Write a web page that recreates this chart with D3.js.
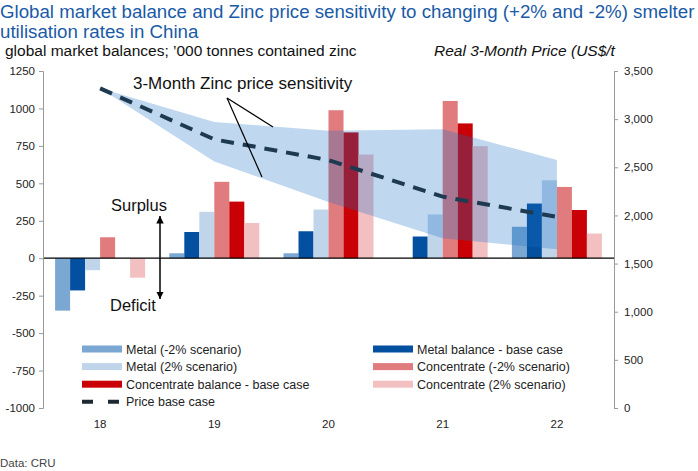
<!DOCTYPE html>
<html>
<head>
<meta charset="utf-8">
<script src="https://cdn.jsdelivr.net/npm/d3@7"></script>
<style>
  body { margin: 0; background: #fff; }
  svg { font-family: "Liberation Sans", Arial, sans-serif; }
</style>
</head>
<body>
<svg id="chart" width="698" height="471"></svg>
<script>
var W = 698, H = 471;

// categories (years)
var years = ["18", "19", "20", "21", "22"];

// market balances, '000 t contained zinc
var metalMinus2 = [-350, 33, 33, 0, 210];
var metalBase = [-215, 175, 180, 145, 365];
var metalPlus2 = [-80, 310, 325, 292, 520];
var concMinus2 = [140, 510, 988, 1050, 476];
var concBase = [0, 378, 840, 900, 322];
var concPlus2 = [-130, 235, 692, 748, 165];

// real 3-month price, US$/t
var priceBase = [3320, 2790, 2575, 2195, 1985];
var priceHigh = [3320, 2970, 2880, 2895, 2575];
var priceLow = [3320, 2560, 2140, 1762, 1650];

var leftTicks = [1250, 1000, 750, 500, 250, 0, -250, -500, -750, -1000];
var rightTicks = [3500, 3000, 2500, 2000, 1500, 1000, 500, 0];

var series = [
  { name: "Metal (-2% scenario)", values: metalMinus2, color: "#7ba7d3" },
  { name: "Metal balance - base case", values: metalBase, color: "#0350a0" },
  { name: "Metal (2% scenario)", values: metalPlus2, color: "#c0d5ea" },
  { name: "Concentrate (-2% scenario)", values: concMinus2, color: "#e07b7e" },
  { name: "Concentrate balance - base case", values: concBase, color: "#c90005" },
  { name: "Concentrate (2% scenario)", values: concPlus2, color: "#f3c0c2" }
];

var svg = d3.select("#chart");
var m = { left: 43, right: 614, top: 71, bottom: 408 };

var x = d3.scaleBand().domain(years).range([m.left, m.right]);
var xs = d3.scaleBand().domain(d3.range(series.length)).range([0, 90]);
var y = d3.scaleLinear().domain([-1000, 1250]).range([m.bottom, m.top]);
var y2 = d3.scaleLinear().domain([0, 3500]).range([m.bottom, m.top]);

// title
svg.append("text").attr("x", 0).attr("y", 18)
  .attr("font-size", 18.7).attr("fill", "#1a5aa6")
  .text("Global market balance and Zinc price sensitivity to changing (+2% and -2%) smelter");
svg.append("text").attr("x", 0).attr("y", 38)
  .attr("font-size", 18.7).attr("fill", "#1a5aa6")
  .text("utilisation rates in China");

svg.append("text").attr("x", 5).attr("y", 56)
  .attr("font-size", 15.5).attr("fill", "#111")
  .text("global market balances; \u2019000 tonnes contained zinc");
svg.append("text").attr("x", 434).attr("y", 56)
  .attr("font-size", 15.5).attr("font-style", "italic").attr("fill", "#111")
  .text("Real 3-Month Price (US$/t");

// bars
series.forEach(function(s, i) {
  svg.append("g").selectAll("rect")
    .data(s.values)
    .enter().append("rect")
    .attr("x", function(d, j) { return x(years[j]) + (x.bandwidth() - 90) / 2 + xs(i); })
    .attr("width", xs.bandwidth())
    .attr("y", function(d) { return y(Math.max(0, d)); })
    .attr("height", function(d) { return Math.abs(y(d) - y(0)); })
    .attr("fill", s.color);
});

// price sensitivity band
var cx = function(d, j) { return x(years[j]) + x.bandwidth() / 2; };
var band = d3.area()
  .x(cx)
  .y0(function(d, j) { return y2(priceLow[j]); })
  .y1(function(d) { return y2(d); });
svg.append("path").datum(priceHigh)
  .attr("d", band)
  .attr("fill", "#1a6fc4")
  .attr("fill-opacity", 0.28);

// price base line
svg.append("path").datum(priceBase)
  .attr("d", d3.line().x(cx).y(function(d) { return y2(d); }))
  .attr("fill", "none")
  .attr("stroke", "#1e3a50")
  .attr("stroke-width", 4)
  .attr("stroke-dasharray", "13,9");

// zero line
svg.append("line")
  .attr("x1", m.left).attr("x2", m.right)
  .attr("y1", y(0)).attr("y2", y(0))
  .attr("stroke", "#000").attr("stroke-width", 1.3);

// left axis (plain hyphen for negatives, as in the source)
var ax = svg.append("g").attr("transform", "translate(" + m.left + ",0)")
  .call(d3.axisLeft(y).tickValues(leftTicks).tickSize(4).tickPadding(4)
    .tickFormat(function(d) { return String(d); }));
ax.select(".domain").attr("stroke", "#999");
ax.selectAll(".tick line").attr("stroke", "#999");
ax.selectAll("text").attr("font-size", 11.5).attr("fill", "#222")
  .attr("font-family", "Liberation Sans, Arial, sans-serif");

// right axis
var ar = svg.append("g").attr("transform", "translate(" + m.right + ",0)")
  .call(d3.axisRight(y2).tickValues(rightTicks).tickSize(4).tickPadding(6).tickFormat(d3.format(",")));
ar.select(".domain").attr("stroke", "#999");
ar.selectAll(".tick line").attr("stroke", "#999");
ar.selectAll("text").attr("font-size", 11.5).attr("fill", "#222")
  .attr("font-family", "Liberation Sans, Arial, sans-serif");

// x labels
svg.append("g").selectAll("text")
  .data(years)
  .enter().append("text")
  .attr("x", function(d) { return x(d) + x.bandwidth() / 2; })
  .attr("y", 428)
  .attr("text-anchor", "middle")
  .attr("font-size", 11.5).attr("fill", "#222")
  .text(function(d) { return d; });

// annotations
svg.append("text").attr("x", 133).attr("y", 89)
  .attr("font-size", 17).attr("fill", "#111")
  .text("3-Month Zinc price sensitivity");
svg.append("line").attr("x1", 227).attr("y1", 98).attr("x2", 273).attr("y2", 127)
  .attr("stroke", "#000").attr("stroke-width", 1.2);
svg.append("line").attr("x1", 227).attr("y1", 98).attr("x2", 262).attr("y2", 177)
  .attr("stroke", "#000").attr("stroke-width", 1.2);

svg.append("defs").append("marker")
  .attr("id", "head").attr("viewBox", "0 0 10 10")
  .attr("refX", 10).attr("refY", 5)
  .attr("markerWidth", 5).attr("markerHeight", 5)
  .attr("orient", "auto")
  .append("path").attr("d", "M0,0L10,5L0,10Z").attr("fill", "#000");
svg.append("line").attr("x1", 160).attr("y1", 258).attr("x2", 160).attr("y2", 216)
  .attr("stroke", "#000").attr("stroke-width", 1.5).attr("marker-end", "url(#head)");
svg.append("line").attr("x1", 160).attr("y1", 258).attr("x2", 160).attr("y2", 299)
  .attr("stroke", "#000").attr("stroke-width", 1.5).attr("marker-end", "url(#head)");
svg.append("text").attr("x", 111).attr("y", 211)
  .attr("font-size", 16.5).attr("fill", "#111").text("Surplus");
svg.append("text").attr("x", 110).attr("y", 311)
  .attr("font-size", 16.5).attr("fill", "#111").text("Deficit");

// legend
var legendItems = [
  { s: series[0], col: 0, row: 0 },
  { s: series[2], col: 0, row: 1 },
  { s: series[4], col: 0, row: 2 },
  { s: series[1], col: 1, row: 0 },
  { s: series[3], col: 1, row: 1 },
  { s: series[5], col: 1, row: 2 }
];
var legX = [82, 373], legY0 = 349, legDy = 17.6;
var lg = svg.append("g");
legendItems.forEach(function(it) {
  var lx = legX[it.col], ly = legY0 + it.row * legDy;
  lg.append("rect").attr("x", lx).attr("y", ly - 3.5).attr("width", 40).attr("height", 7)
    .attr("fill", it.s.color);
  lg.append("text").attr("x", lx + 44).attr("y", ly + 4.5)
    .attr("font-size", 12.5).attr("fill", "#222").text(it.s.name);
});
var py = legY0 + 3 * legDy;
lg.append("line").attr("x1", 82).attr("x2", 122).attr("y1", py).attr("y2", py)
  .attr("stroke", "#1e2a33").attr("stroke-width", 4).attr("stroke-dasharray", "11,15");
lg.append("text").attr("x", 126).attr("y", py + 4.5)
  .attr("font-size", 12.5).attr("fill", "#222").text("Price base case");

svg.append("text").attr("x", 0).attr("y", 467)
  .attr("font-size", 11.5).attr("fill", "#444").text("Data: CRU");
</script>
</body>
</html>
